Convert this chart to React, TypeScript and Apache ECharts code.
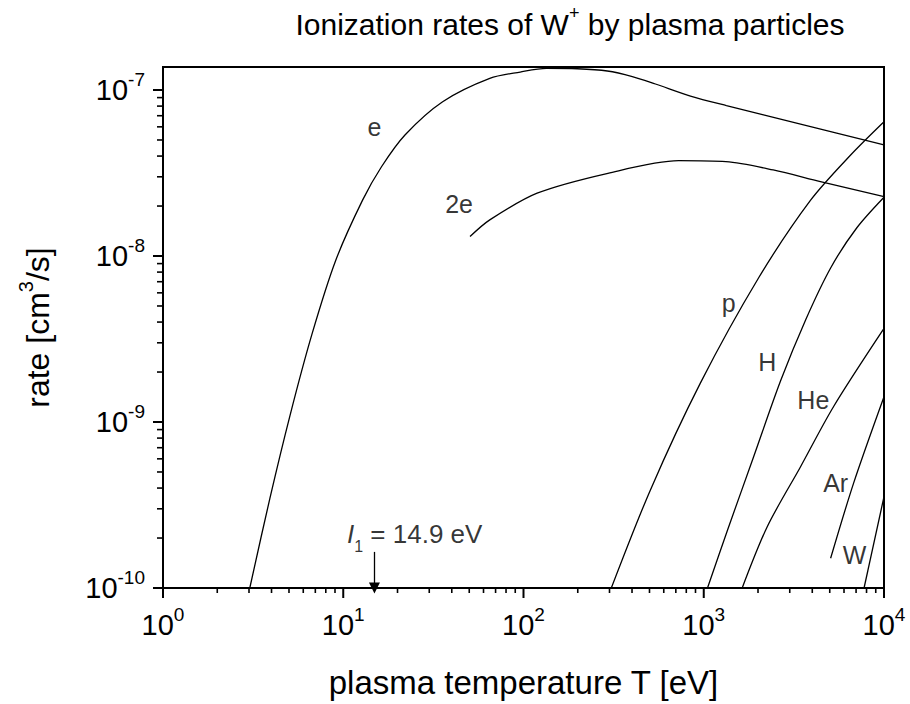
import React, { useEffect, useRef } from 'react';
import * as echarts from 'echarts';

// ---------- data ----------
const eT = [3.03, 3.92, 5.06, 6.7, 9.1, 12.8, 16.3, 22, 35.6, 65, 95.9, 134, 198.8, 291.7, 401.6, 539.5, 844, 1336, 3444, 10000];
const eRate = [1.0e-10, 3.48e-10, 1.09e-9, 3.37e-9, 9.46e-9, 2.17e-8, 3.45e-8, 5.36e-8, 8.5e-8, 1.175e-7, 1.283e-7, 1.35e-7, 1.343e-7, 1.302e-7, 1.206e-7, 1.087e-7, 9.2e-8, 8.06e-8, 6.24e-8, 4.67e-8];

const e2T = [50.5, 65, 119, 294, 726, 1328, 2428, 4438, 10000];
const e2Rate = [1.31e-8, 1.65e-8, 2.39e-8, 3.15e-8, 3.75e-8, 3.7e-8, 3.3e-8, 2.81e-8, 2.28e-8];

const pT = [307, 506, 959, 2013, 3916, 6531, 10000];
const pRate = [1.0e-10, 3.9e-10, 1.72e-9, 7.37e-9, 2.17e-8, 4.06e-8, 6.44e-8];

const hT = [1049, 1354, 1889, 2669, 3673, 5057, 7053, 10000];
const hRate = [1.0e-10, 2.23e-10, 6.15e-10, 1.77e-9, 4.12e-9, 8.47e-9, 1.475e-8, 2.26e-8];

const heT = [1634, 2250, 3444, 5255, 10000];
const heRate = [1.0e-10, 2.34e-10, 5.38e-10, 1.24e-9, 3.66e-9];

const arT = [5057, 6790, 10000];
const arRate = [1.51e-10, 4.3e-10, 1.42e-9];

const wT = [7750, 10000];
const wRate = [1.0e-10, 3.55e-10];

const curveLabels = ['e', '2e', 'p', 'H', 'He', 'Ar', 'W'];
const curveLabelT = [14.9, 43.9, 1376, 2250, 4055, 5395, 6875];
const curveLabelRate = [6.0e-8, 2.06e-8, 5.19e-9, 2.31e-9, 1.36e-9, 4.27e-10, 1.58e-10];

const ionizationT = 14.9; // I1 = 14.9 eV
const arrowTopRate = 1.65e-10;
const annotT = 10.49;
const annotRate = 2.11e-10;

const xMajorTicks = [1, 10, 100, 1000, 10000];
const xMinorTicks = [2, 3, 4, 5, 6, 7, 8, 9, 20, 30, 40, 50, 60, 70, 80, 90, 200, 300, 400, 500, 600, 700, 800, 900, 2000, 3000, 4000, 5000, 6000, 7000, 8000, 9000];
const yMajorTicks = [1e-10, 1e-9, 1e-8, 1e-7];
const yMinorTicks = [2e-10, 3e-10, 4e-10, 5e-10, 6e-10, 7e-10, 8e-10, 9e-10, 2e-9, 3e-9, 4e-9, 5e-9, 6e-9, 7e-9, 8e-9, 9e-9, 2e-8, 3e-8, 4e-8, 5e-8, 6e-8, 7e-8, 8e-8, 9e-8];

const xMin = 1;
const xMax = 10000;
const yMin = 1e-10;
const yMax = 1.376e-7;

const FF = '"Liberation Sans", Arial, Helvetica, sans-serif';

const pairs = (xs: number[], ys: number[]) => xs.map((x, i) => [x, ys[i]]);

const powLabel = (v: number) => {
  const ex = Math.round(Math.log10(v));
  return `{b|10}{s|${ex}}`;
};

const tickRich = {
  b: { fontSize: 29, fontFamily: FF, color: '#000', lineHeight: 40 },
  s: { fontSize: 19, fontFamily: FF, color: '#000', lineHeight: 19, verticalAlign: 'top' },
};

const titleGraphic = {
  type: 'text',
  id: 'title',
  x: 570,
  y: 24,
  z: 10,
  style: {
    text: '{t|Ionization rates of W}{s|+}{t| by plasma particles}',
    align: 'center',
    verticalAlign: 'middle',
    rich: {
      t: { fontSize: 30, fontFamily: FF, color: '#000', lineHeight: 40 },
      s: { fontSize: 18, fontFamily: FF, color: '#000', lineHeight: 18, verticalAlign: 'top' },
    },
  },
};

export default function App() {
  const ref = useRef<HTMLDivElement>(null);
  useEffect(() => {
    const chart = echarts.init(ref.current!, null, { renderer: 'svg' });
    const curve = (name: string, xs: number[], ys: number[]) => ({
      name,
      type: 'line',
      data: pairs(xs, ys),
      showSymbol: false,
      symbol: 'none',
      smooth: 0.3,
      silent: true,
      lineStyle: { color: '#000', width: 1.3 },
      z: 3,
    });
    const option: any = {
      animation: false,
      backgroundColor: '#fff',
      textStyle: { fontFamily: FF },
      grid: {
        left: 163,
        right: 26,
        top: 67,
        bottom: 116,
        show: true,
        borderColor: '#000',
        borderWidth: 2,
        containLabel: false,
        outerBoundsMode: 'none',
      },
      graphic: [titleGraphic],
      xAxis: {
        type: 'log',
        logBase: 10,
        min: xMin,
        max: xMax,
        position: 'bottom',
        name: 'plasma temperature T [eV]',
        nameLocation: 'middle',
        nameGap: 74,
        nameTextStyle: { fontSize: 33, fontFamily: FF, color: '#000', lineHeight: 40 },
        axisLine: { show: true, lineStyle: { color: '#000', width: 2 } },
        axisTick: { show: false },
        axisLabel: { show: true, margin: 17, customValues: xMajorTicks, formatter: powLabel, rich: tickRich },
        splitLine: { show: false },
        minorTick: { show: false },
      },
      yAxis: {
        type: 'log',
        logBase: 10,
        min: yMin,
        max: yMax,
        position: 'left',
        name: '{n|rate [cm}{s|3}{n|/s]}',
        nameLocation: 'middle',
        nameRotate: 90,
        nameGap: 103,
        nameTextStyle: {
          rich: {
            n: { fontSize: 32, fontFamily: FF, color: '#000', lineHeight: 44 },
            s: { fontSize: 20, fontFamily: FF, color: '#000', lineHeight: 20, verticalAlign: 'top' },
          },
        },
        axisLine: { show: true, lineStyle: { color: '#000', width: 2 } },
        axisTick: { show: false },
        axisLabel: { show: true, margin: 18, customValues: yMajorTicks, formatter: powLabel, rich: tickRich },
        splitLine: { show: false },
        minorTick: { show: false },
      },
      series: [
        curve('e', eT, eRate),
        curve('2e', e2T, e2Rate),
        curve('p', pT, pRate),
        curve('H', hT, hRate),
        curve('He', heT, heRate),
        curve('Ar', arT, arRate),
        curve('W', wT, wRate),
        {
          name: 'labels',
          type: 'scatter',
          symbolSize: 0,
          silent: true,
          data: curveLabels.map((n, i) => ({ name: n, value: [curveLabelT[i], curveLabelRate[i]] })),
          label: {
            show: true,
            position: 'inside',
            formatter: (p: any) => p.name,
            fontSize: 25,
            fontFamily: FF,
            color: '#000',
          },
          z: 5,
        },
        {
          name: 'annotation',
          type: 'scatter',
          symbolSize: 0,
          silent: true,
          data: [{ name: 'I1', value: [annotT, annotRate] }],
          label: {
            show: true,
            position: 'right',
            distance: 0,
            formatter: '{i|I}{sub|1}{t| = 14.9 eV}',
            rich: {
              i: { fontSize: 26, fontFamily: FF, fontStyle: 'italic', color: '#000', lineHeight: 40 },
              sub: { fontSize: 16, fontFamily: FF, color: '#000', lineHeight: 14, verticalAlign: 'bottom' },
              t: { fontSize: 26, fontFamily: FF, color: '#000', lineHeight: 40 },
            },
          },
          markLine: {
            silent: true,
            symbol: ['none', 'triangle'],
            symbolSize: 11,
            label: { show: false },
            lineStyle: { color: '#000', width: 1.3, type: 'solid' },
            data: [[{ coord: [ionizationT, arrowTopRate] }, { coord: [ionizationT, yMin] }]],
          },
          z: 5,
        },
      ],
    };
    chart.setOption(option);

    // axis ticks as thin filled rects, placed through the axes' own scales
    const ticks: any[] = [];
    const addTicks = (vals: number[], dir: 'x' | 'y', len: number, width: number) => {
      vals.forEach((v, i) => {
        const p = chart.convertToPixel({ xAxisIndex: 0, yAxisIndex: 0 } as any, dir === 'x' ? [v, yMin] : [xMin, v]) as any;
        if (!p || !isFinite(p[0]) || !isFinite(p[1])) return;
        const shape =
          dir === 'x'
            ? { x: p[0] - width / 2, y: p[1], width, height: len }
            : { x: p[0] - len, y: p[1] - width / 2, width: len, height: width };
        ticks.push({
          type: 'rect',
          id: `tick-${dir}-${len}-${i}`,
          silent: true,
          z: 10,
          shape,
          style: { fill: '#000' },
        });
      });
    };
    addTicks(xMajorTicks, 'x', 10, 2);
    addTicks(xMinorTicks, 'x', 5, 1.6);
    addTicks(yMajorTicks, 'y', 10, 2);
    addTicks(yMinorTicks, 'y', 6, 1.6);
    chart.setOption({ graphic: [titleGraphic, ...ticks] });

    return () => chart.dispose();
  }, []);
  return <div ref={ref} style={{ position: 'absolute', left: 0, top: 0, width: 910, height: 704 }} />;
}
